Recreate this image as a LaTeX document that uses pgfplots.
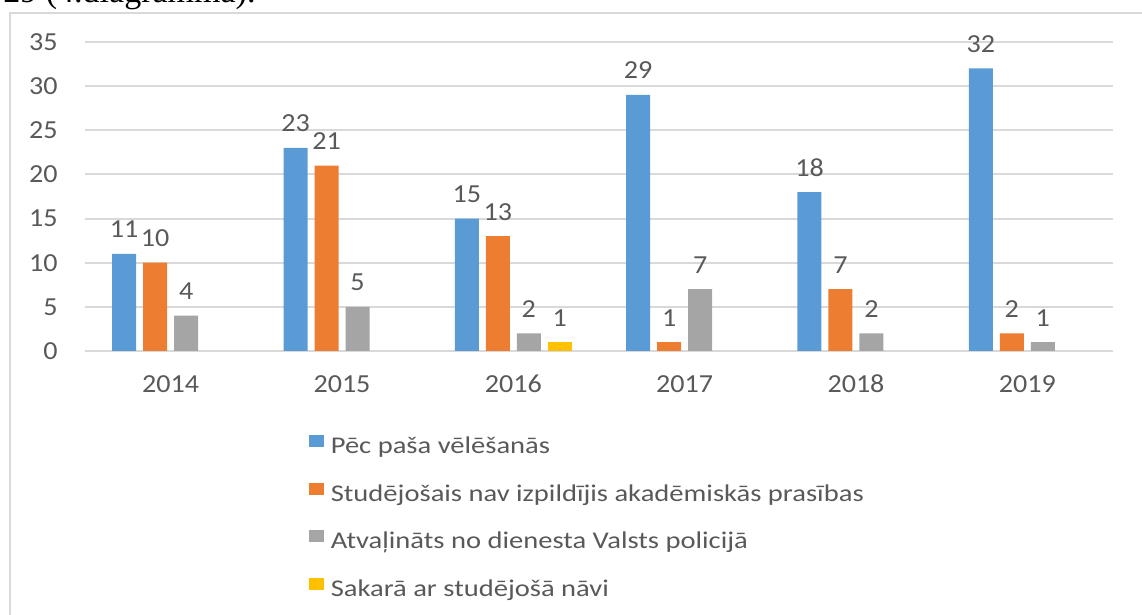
\documentclass[border=0pt]{standalone}
\usepackage{pgfplots}
\pgfplotsset{compat=1.18}
\usepackage{fontspec}
\setmainfont{Carlito}[FakeStretch=1.08]
\newfontfamily\legfont{Carlito}[FakeStretch=1.19]
\newfontfamily\timesfont{Liberation Serif}
\definecolor{cBlue}{HTML}{5B9BD5}
\definecolor{cOrange}{HTML}{ED7D31}
\definecolor{cGray}{HTML}{A5A5A5}
\definecolor{cYellow}{HTML}{FFC000}
\definecolor{txt}{HTML}{595959}
\definecolor{gridc}{HTML}{D9D9D9}
\begin{document}
\begin{tikzpicture}
\useasboundingbox (0pt,0pt) rectangle (571pt,307.5pt);
\clip (0pt,0pt) rectangle (571pt,307.5pt);
\node[anchor=base west, inner sep=0pt, font=\timesfont\fontsize{17}{20}\selectfont] at (1.5pt,306.2pt) {29 (4.diagramma).};
\draw[gridc, line width=1.2pt] (5pt,-20pt) rectangle (600pt,301pt);
\begin{axis}[
  at={(42.5pt,132pt)}, anchor=south west,
  scale only axis, width=514pt, height=154.5pt,
  ybar, bar width=12pt,
  xmin=-0.5, xmax=5.5, ymin=0, ymax=35,
  xtick={0,1,2,3,4,5},
  xticklabels={2014,2015,2016,2017,2018,2019},
  ytick={0,5,10,15,20,25,30,35},
  major tick length=0pt,
  axis line style={draw=none},
  ymajorgrids, xmajorgrids=false, grid style={gridc, line width=1pt},
  /pgf/number format/assume math mode=true,
  tick label style={text=txt, font=\fontsize{13}{15}\selectfont, inner sep=0pt},
  yticklabel style={xshift=-13.5pt},
  xticklabel style={anchor=base, yshift=-20.9pt},
  nodes near coords,
  every node near coord/.append style={text=txt, font=\fontsize{13}{15}\selectfont, inner sep=0pt, yshift=8pt, anchor=base},
  clip=false,
  legend image code/.code={\fill[#1] (0pt,0pt) rectangle (7.5pt,6pt);},
  legend cell align=left,
  legend style={at={(0.2115,-0.2589)}, anchor=north west, draw=none, fill=none,
    font=\legfont\fontsize{12}{14}\selectfont, text=txt,
    nodes={inner sep=0pt, text height=9pt, text depth=2.5pt},
    row sep=12pt, column sep=3.5pt},
]
\addplot[fill=cBlue, draw=none, bar shift=-23.25pt] coordinates {(0,11) (1,23) (2,15) (3,29) (4,18) (5,32)};
\addplot[fill=cOrange, draw=none, bar shift=-7.75pt] coordinates {(0,10) (1,21) (2,13) (3,1) (4,7) (5,2)};
\addplot[fill=cGray, draw=none, bar shift=7.75pt] coordinates {(0,4) (1,5) (2,2) (3,7) (4,2) (5,1)};
\addplot[fill=cYellow, draw=none, bar shift=23.25pt] coordinates {(2,1)};
\legend{Pēc paša vēlēšanās, Studējošais nav izpildījis akadēmiskās prasības, Atvaļināts no dienesta Valsts policijā, Sakarā ar studējošā nāvi}
\end{axis}
\end{tikzpicture}
\end{document}
